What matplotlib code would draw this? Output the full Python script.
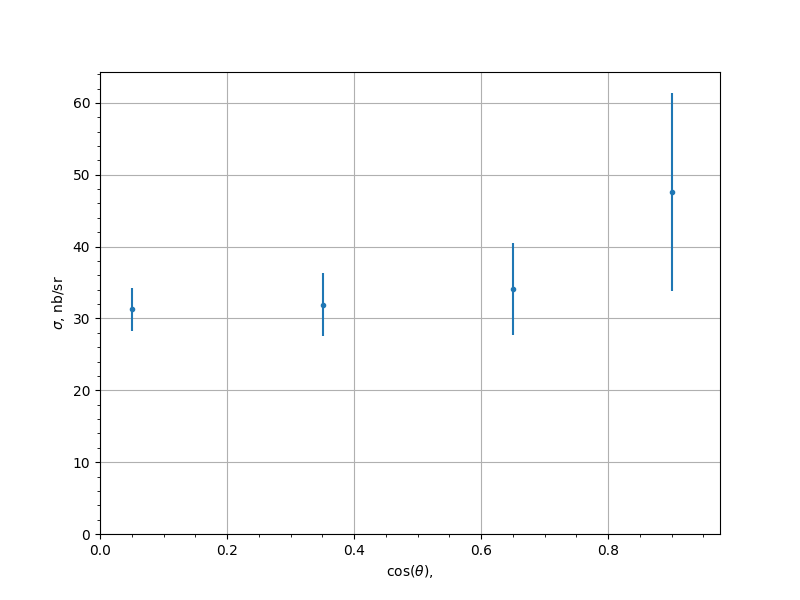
import matplotlib
matplotlib.use("Agg")
import matplotlib.pyplot as plt

cos_theta = [0.05, 0.351, 0.65, 0.901]
sigma = [31.3, 31.9, 34.1, 47.6]
sigma_err = [3.0, 4.4, 6.4, 13.8]

fig, ax = plt.subplots(figsize=(8, 6), dpi=100)
ax.errorbar(cos_theta, sigma, yerr=sigma_err, fmt='.', color='#1f77b4')
ax.set_xlim(0, 0.976)
ax.set_ylim(0, 64.3)
ax.minorticks_on()
ax.grid(True, which='major')
ax.set_xlabel(r'cos($\theta$),')
ax.set_ylabel(r'$\sigma$, nb/sr')
fig.savefig('out.png', dpi=100)
